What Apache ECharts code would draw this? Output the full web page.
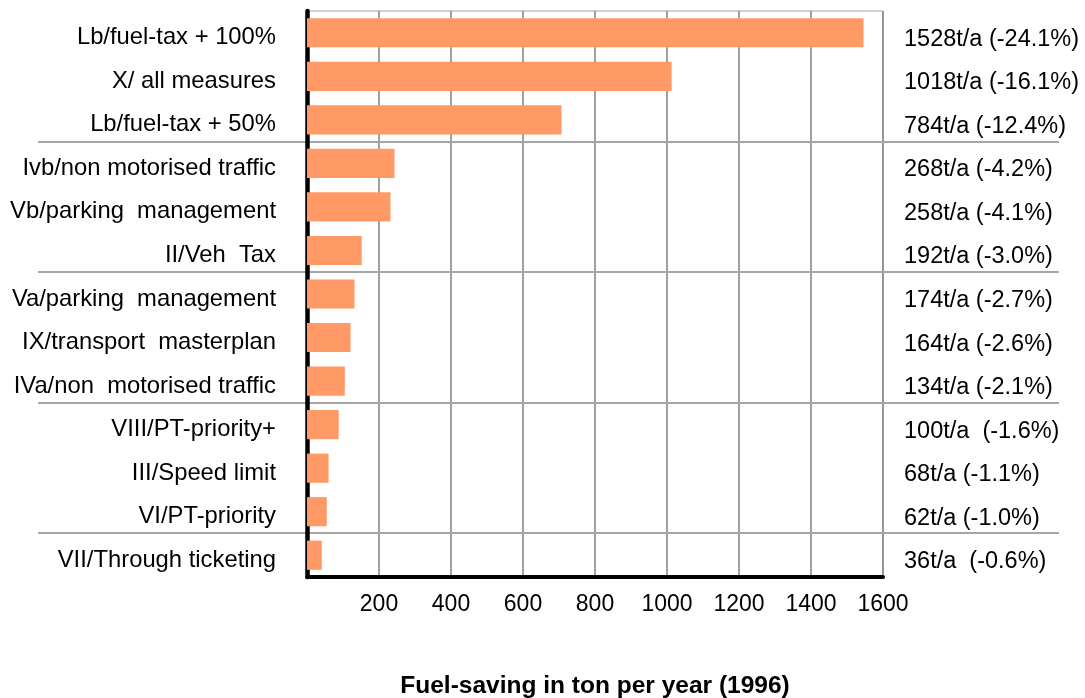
<!DOCTYPE html>
<html><head><meta charset="utf-8">
<script src="https://cdn.jsdelivr.net/npm/echarts@6/dist/echarts.min.js"></script>
<style>html,body{margin:0;padding:0;background:#fff}#c{width:1085px;height:698px}</style>
</head><body><div id="c"></div>
<script>
const categories = [
  "Lb/fuel-tax + 100%",
  "X/ all measures",
  "Lb/fuel-tax + 50%",
  "Ivb/non motorised traffic",
  "Vb/parking  management",
  "II/Veh  Tax",
  "Va/parking  management",
  "IX/transport  masterplan",
  "IVa/non  motorised traffic",
  "VIII/PT-priority+",
  "III/Speed limit",
  "VI/PT-priority",
  "VII/Through ticketing"
];
const values = [1546, 1013, 707, 243, 232, 152, 132, 121, 105, 88, 60, 55, 41];
const rightLabels = [
  "1528t/a (-24.1%)",
  "1018t/a (-16.1%)",
  "784t/a (-12.4%)",
  "268t/a (-4.2%)",
  "258t/a (-4.1%)",
  "192t/a (-3.0%)",
  "174t/a (-2.7%)",
  "164t/a (-2.6%)",
  "134t/a (-2.1%)",
  "100t/a  (-1.6%)",
  "68t/a (-1.1%)",
  "62t/a (-1.0%)",
  "36t/a  (-0.6%)"
];
const groupBreaks = [3, 6, 9, 12];
const xMin = 0, xMax = 1600, xStep = 200;
const xTitle = "Fuel-saving in ton per year (1996)";

const FONT = "Liberation Sans, Arial, sans-serif";
const chart = echarts.init(document.getElementById('c'), null, {renderer: 'canvas'});
const option = {
  animation: false,
  backgroundColor: '#fff',
  grid: {left: 307, right: 202, top: 11, bottom: 121, show: true, borderColor: '#a6a6a6', borderWidth: 1,
    containLabel: false, outerBoundsMode: 'none'},
  xAxis: {
    type: 'value', min: xMin, max: xMax, interval: xStep,
    name: xTitle, nameLocation: 'middle', nameGap: 97,
    nameTextStyle: {fontFamily: FONT, fontSize: 24.5, fontWeight: 'bold', color: '#000'},
    axisLine: {show: true, lineStyle: {color: '#000', width: 4}},
    axisTick: {show: false},
    axisLabel: {fontFamily: FONT, fontSize: 23, color: '#000', margin: 16, showMaxLabel: true,
      formatter: v => v === 0 ? '' : String(v)},
    splitLine: {show: true, lineStyle: {color: '#808080', width: 1.5}}
  },
  yAxis: [{
    type: 'category', inverse: true, data: categories,
    axisLine: {show: true, onZero: false, lineStyle: {color: '#000', width: 4.5}},
    axisTick: {show: false},
    axisLabel: {margin: 31, formatter: v => '{t|' + v + '}',
      rich: {t: {fontFamily: FONT, fontSize: 23.8, color: '#000', padding: [10, 0, 0, 0]}}},
    splitLine: {show: false}
  }, {
    type: 'category', inverse: true, data: rightLabels, position: 'right',
    axisLine: {show: false}, axisTick: {show: false},
    axisLabel: {margin: 21, align: 'left', formatter: v => '{t|' + v + '}',
      rich: {t: {fontFamily: FONT, fontSize: 23.5, color: '#000', padding: [13, 0, 0, 0]}}},
    splitLine: {show: false}
  }],
  series: [{
    type: 'bar', data: values, yAxisIndex: 0,
    barCategoryGap: '33%',
    itemStyle: {color: '#FF9966'},
    z: 3
  }]
};
chart.setOption(option);

function drawSeparators() {
  const lines = groupBreaks.map(i => {
    const y1 = chart.convertToPixel({yAxisIndex: 0}, categories[i - 1]);
    const y2 = chart.convertToPixel({yAxisIndex: 0}, categories[i]);
    const y = Math.round((y1 + y2) / 2);
    return {type: 'line', shape: {x1: 38, y1: y, x2: 1059, y2: y},
      style: {stroke: '#a6a6a6', lineWidth: 2}, z: 0, silent: true};
  });
  chart.setOption({graphic: lines});
}
drawSeparators();
</script>
</body></html>
